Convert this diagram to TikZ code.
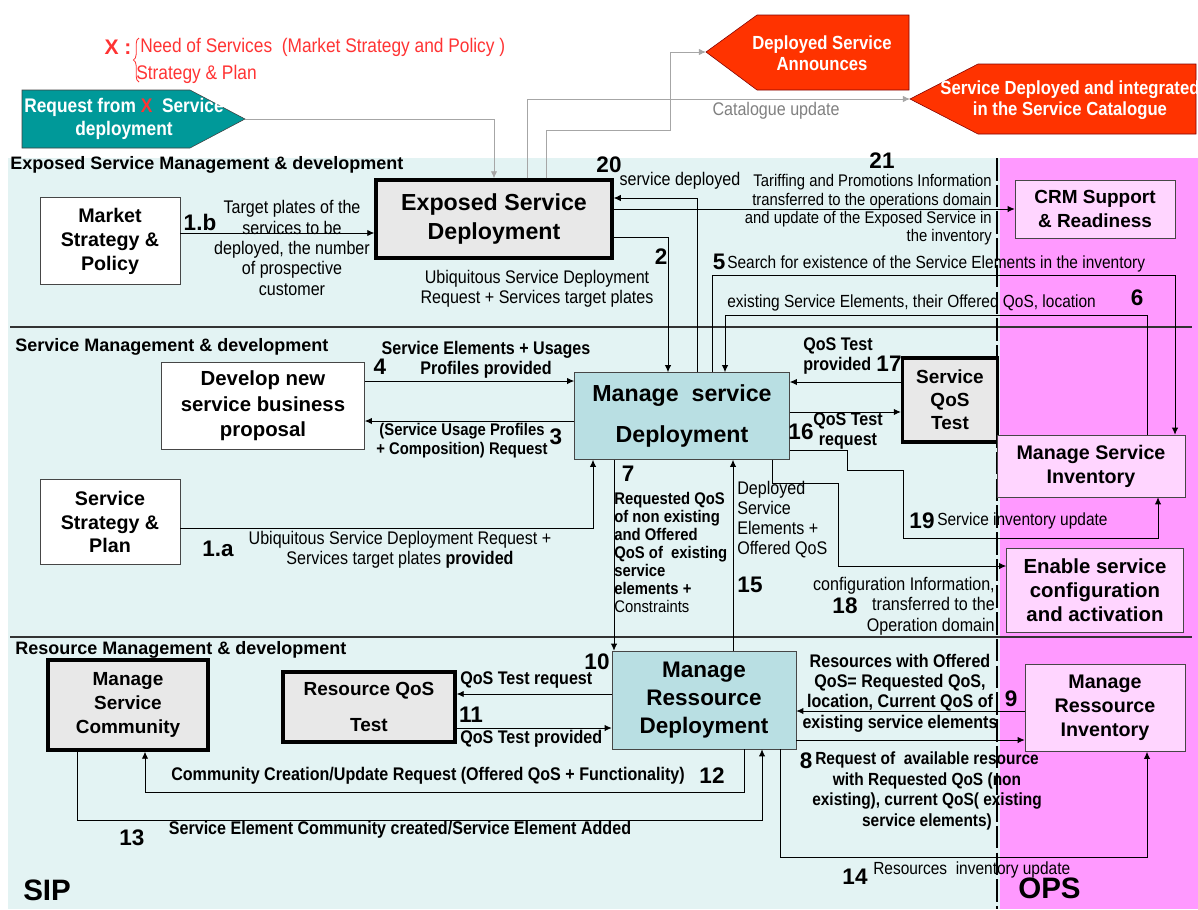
\documentclass[tikz,border=0pt]{standalone}
\usepackage{fontspec}
\setmainfont{Liberation Sans}
\newfontfamily\nf[FakeStretch=0.88]{Liberation Sans}
\usetikzlibrary{arrows.meta,decorations.pathreplacing}
\newcommand\fsz[2]{\fontsize{#1}{#2}\selectfont}
\definecolor{lanecyan}{HTML}{E3F3F3}
\definecolor{opspink}{HTML}{FF99FF}
\definecolor{boxpink}{HTML}{FFD5FF}
\definecolor{boxcyan}{HTML}{B9DFE3}
\definecolor{annred}{HTML}{FF3300}
\definecolor{reqteal}{HTML}{009999}
\definecolor{xred}{HTML}{FF3333}

\begin{document}
\begin{tikzpicture}[x=0.025cm, y=-0.025cm,
  marb/.style={draw=black, line width=2.4pt, fill=gray!18, align=center,
    font=\bfseries\fsz{13.5}{17}, inner sep=1pt},
  wbox/.style={draw=gray!55!black, fill=white, align=center,
    font=\bfseries\fsz{14}{17}, inner sep=1pt},
  cbox/.style={draw=gray!55!black, fill=boxcyan, align=center,
    font=\bfseries\fsz{16}{20}, inner sep=1pt},
  pbox/.style={draw=gray!55!black, fill=boxpink, align=center,
    font=\bfseries\fsz{14}{17}, inner sep=1pt},
  lane/.style={font=\bfseries\fsz{12.8}{14}, inner sep=0pt, anchor=west},
  shtxt/.style={font=\nf\bfseries\fsz{13.5}{15}, text=white, align=center, inner sep=0pt},
  num/.style={font=\bfseries\fsz{16}{16}, inner sep=0pt},
  lbl/.style={font=\nf\fsz{13}{14.5}, align=center, inner sep=0pt},
  blbl/.style={font=\nf\bfseries\fsz{13}{14.5}, align=center, inner sep=0pt},
  flow/.style={-{Latex[length=5pt,width=4.5pt]}, line width=0.6pt},
  gflow/.style={flow, draw=gray!70},
  sepline/.style={draw=gray!40!black, line width=0.9pt},
]
\useasboundingbox (0,0) rectangle (1198,909);

%==================== LANES ====================
\fill[lanecyan] (8,158) rectangle (1000,909);
\fill[opspink] (1000,158) rectangle (1198,909);
\draw[sepline] (10,327) -- (1192,327);
\draw[sepline] (10,637) -- (1192,637);
\draw[black, line width=1.6pt, dash pattern=on 16pt off 3pt] (997,158) -- (997,909);
\node[lane] (L1) at (10,165) {Exposed Service Management \& development};
\node[lane] (L2) at (15,347) {Service Management \& development};
\node[lane] (L3) at (15,650) {Resource Management \& development};
\node[lane, font=\bfseries\fsz{21}{21}] (sip) at (23,890) {SIP};
\node[lane, font=\bfseries\fsz{21}{21}] (ops) at (1018,888) {OPS};

%==================== TOP: legend and outside shapes ====================
\node[font=\bfseries\fsz{15}{15}, text=xred, inner sep=0pt] (xkey) at (118,47) {X :};
\draw[xred, line width=0.6pt, decorate, decoration={brace, amplitude=4pt}] (139,82) -- (139,38);
\node[anchor=west, font=\nf\fsz{14}{15}, text=xred, inner sep=0pt] (xneed) at (140,47)
  {Need of Services\ \ (Market Strategy and Policy )};
\node[anchor=west, font=\nf\fsz{14}{15}, text=xred, inner sep=0pt] (xplan) at (136,74)
  {Strategy \& Plan};

\draw[draw=gray!50!black, fill=reqteal] (22,90) -- (190,90) -- (245,119) -- (190,148) -- (22,148) -- cycle;
\coordinate (reqtip) at (245,119);
\node[shtxt, font=\nf\bfseries\fsz{14}{16}] (req) at (124,119)
  {Request from \textcolor{xred}{X}\ \ Service\\deployment};

\draw[draw=red!50!black, fill=annred] (706,52) -- (757,15) -- (909,15) -- (909,90) -- (757,90) -- cycle;
\coordinate (dsatip) at (706,52);
\node[shtxt] (dsa) at (822,53) {Deployed Service\\Announces};

\draw[draw=red!50!black, fill=annred] (910,99) -- (978,64) -- (1196,64) -- (1196,134) -- (978,134) -- cycle;
\coordinate (sdtip) at (910,99);
\node[shtxt] (sdc) at (1070,100) {Service Deployed and integrated\\in the Service Catalogue};

%==================== BOXES ====================
\node[wbox, minimum width=3.5cm, minimum height=2.175cm] (msp) at (110,241) {Market\\Strategy \&\\Policy};
\node[marb, minimum width=5.9cm, minimum height=1.95cm, font=\bfseries\fsz{16.5}{21}] (esd) at (494,219)
  {Exposed Service\\Deployment};
\node[pbox, minimum width=4cm, minimum height=1.45cm, font=\bfseries\fsz{13.5}{17}] (crm) at (1095,209)
  {CRM Support\\\& Readiness};
\node[wbox, minimum width=5.075cm, minimum height=2.175cm, font=\bfseries\fsz{14.5}{18}] (dnp) at (263,406)
  {Develop new\\service business\\proposal};
\node[cbox, minimum width=5.375cm, minimum height=2.175cm, font=\bfseries\fsz{16.5}{29}] (msd) at (682,416)
  {Manage\ \ service\\Deployment};
\node[marb, minimum width=2.375cm, minimum height=2.1cm, font=\bfseries\fsz{13.5}{16.4}] (sqt) at (950,400)
  {Service\\QoS\\Test};
\node[pbox, minimum width=4.7cm, minimum height=1.55cm] (msi) at (1091,466) {Manage Service\\Inventory};
\node[wbox, minimum width=3.5cm, minimum height=2.125cm] (ssp) at (110,522) {Service\\Strategy \&\\Plan};
\node[pbox, minimum width=4.425cm, minimum height=2.1cm, font=\bfseries\fsz{14.5}{17}] (esc) at (1095,590)
  {Enable service\\configuration\\and activation};
\node[marb, minimum width=4cm, minimum height=2.25cm] (msc) at (128,705) {Manage\\Service\\Community};
\node[marb, minimum width=4.3cm, minimum height=1.75cm, font=\bfseries\fsz{13.5}{26}] (rqt) at (369,707)
  {Resource QoS\\Test};
\node[cbox, minimum width=4.6cm, minimum height=2.45cm] (mrd) at (704,700) {Manage\\Ressource\\Deployment};
\node[pbox, minimum width=4cm, minimum height=2.175cm] (mri) at (1105,708) {Manage\\Ressource\\Inventory};

%==================== CONNECTORS ====================
% request, announce, catalogue (grey)
\draw[gflow] (reqtip) -| (esd.north);
\draw[gflow] (546,0 |- esd.north) -- (546,130) -- (670,130) -- (670,52) -- (dsatip);
\draw[gflow] (527,0 |- esd.north) -- (527,99) -- (sdtip);
\node[lbl, text=gray] (tcat) at (776,111) {Catalogue update};

% 1.b
\draw[flow] (msp.east |- 0,233) -- (esd.west |- 0,233);
\node[num] (n1b) at (200,222) {1.b};
\node[lbl] (t1b) at (292,248) {Target plates of the\\services to be\\deployed, the number\\of prospective\\customer};

% 2
\draw[flow] (esd.east |- 0,237) -| (668,0 |- msd.north);
\node[num] (n2) at (661,257) {2};
\node[lbl] (t2) at (537,289) {Ubiquitous Service Deployment\\Request + Services target plates};

% 20
\draw[flow] (697,0 |- msd.north) |- (esd.east |- 0,198);
\node[num] (n20) at (609,165) {20};
\node[lbl] (t20) at (680,181) {service deployed};

% 21
\draw[flow] (esd.east |- crm.west) -- (crm.west);
\node[num] (n21) at (882,161) {21};
\node[lbl, anchor=east, align=right, font=\nf\fsz{12}{13}] (t21) at (992,210)
  {Tariffing and Promotions Information\\transferred to the operations domain\\and update of the Exposed Service in\\the inventory};

% 5
\draw[flow] (712,0 |- msd.north) |- (1175,275) -- (1175,0 |- msi.north);
\node[num] (n5) at (719,262) {5};
\node[lbl, anchor=west, font=\nf\fsz{12.5}{14}] (t5) at (727,264)
  {Search for existence of the Service Elements in the inventory};

% 6
\draw[flow] (1147,0 |- msi.north) |- (725,315) -- (725,0 |- msd.north);
\node[num] (n6) at (1137,298) {6};
\node[lbl, anchor=west, font=\nf\fsz{12.5}{14}] (t6) at (727,303)
  {existing Service Elements, their Offered QoS, location};

% 4 and 3
\draw[flow] (dnp.east |- 0,381) -- (msd.west |- 0,381);
\node[num] (n4) at (380,367) {4};
\node[blbl] (t4) at (486,360) {Service Elements + Usages\\Profiles provided};
\draw[flow] (msd.west |- 0,421) -- (dnp.east |- 0,421);
\node[num] (n3) at (556,437) {3};
\node[blbl, font=\nf\bfseries\fsz{12}{13.5}] (t3) at (462,441) {(Service Usage Profiles\\+ Composition) Request};

% 1.a
\draw[flow] (ssp.east |- 0,528) -| (593,0 |- msd.south);
\node[num] (n1a) at (218,549) {1.a};
\node[lbl] (t1a) at (400,550) {Ubiquitous Service Deployment Request +\\Services target plates \textbf{provided}};

% 17 and 16
\draw[flow] (sqt.west |- 0,382) -- (msd.east |- 0,382);
\node[blbl, anchor=west, align=left] (t17) at (803,356) {QoS Test\\provided};
\node[num] (n17) at (889,364) {17};
\draw[flow] (msd.east |- 0,412) -- (sqt.west |- 0,412);
\node[num] (n16) at (801,432) {16};
\node[blbl] (t16) at (848,431) {QoS Test\\request};

% 19
\draw[flow] (msd.east |- 0,450) -- (847,450) -- (847,470) -- (903,470) -- (903,538) -- (1158,538) -- (1158,0 |- msi.south);
\node[num] (n19) at (922,521) {19};
\node[lbl, anchor=west, font=\nf\fsz{12.5}{14}] (t19) at (937,521) {Service inventory update};

% 18
\draw[flow] (772,0 |- msd.south) |- (838,483) |- (esc.west |- 0,566);
\node[num] (n18) at (845,606) {18};
\node[lbl, anchor=east, align=right] (t18) at (995,606) {configuration Information,\\transferred to the\\Operation domain};

% 7 and 15
\draw[flow] (614,0 |- msd.south) -- (614,0 |- mrd.north);
\node[num] (n7) at (628,474) {7};
\node[blbl, anchor=west, align=left, font=\nf\bfseries\fsz{12}{12.8}] (t7) at (614,552)
  {Requested QoS\\of non existing\\and Offered\\QoS of\ \ existing\\service\\elements +\\\mdseries Constraints};
\draw[flow] (733,0 |- mrd.north) -- (733,0 |- msd.south);
\node[lbl, anchor=west, align=left, font=\nf\fsz{13}{14.2}] (t15) at (737,520)
  {Deployed\\Service\\Elements +\\Offered QoS};
\node[num] (n15) at (750,585) {15};

% 10 and 11
\draw[flow] (mrd.west |- 0,694) -- (rqt.east |- 0,694);
\node[num] (n10) at (597,662) {10};
\node[blbl, anchor=west] (t10) at (460,680) {QoS Test request};
\draw[flow] (rqt.east |- 0,728) -- (mrd.west |- 0,728);
\node[num] (n11) at (471,715) {11};
\node[blbl, anchor=west] (t11) at (460,739) {QoS Test provided};

% 12 and 13
\draw[flow] (744,0 |- mrd.south) |- (145,792) -- (145,0 |- msc.south);
\node[blbl] (t12) at (428,776) {Community Creation/Update Request (Offered QoS + Functionality)};
\node[num] (n12) at (712,776) {12};
\draw[flow] (77,0 |- msc.south) |- (762,820) -- (762,0 |- mrd.south);
\node[num] (n13) at (132,838) {13};
\node[blbl] (t13) at (400,830) {Service Element Community created/Service Element Added};

% 9 and 8
\draw[flow] (mri.west |- 0,711) -- (mrd.east |- 0,711);
\node[blbl] (t9) at (900,693) {Resources with Offered\\QoS= Requested QoS,\\location, Current QoS of\\existing service elements};
\node[num] (n9) at (1011,699) {9};
\draw[flow] (mrd.east |- 0,740) -- (mri.west |- 0,740);
\node[num] (n8) at (806,761) {8};
\node[blbl, font=\nf\bfseries\fsz{12.5}{14.5}] (t8) at (927,791) {Request of\ \ available resource\\with Requested QoS (non\\existing), current QoS( existing\\service elements)};

% 14
\draw[flow] (780,0 |- mrd.south) |- (1147,857) -- (1147,0 |- mri.south);
\node[num] (n14) at (855,877) {14};
\node[lbl, anchor=west, font=\nf\fsz{12.5}{14}] (t14) at (873,870) {Resources\ \ inventory update};

\end{tikzpicture}
\end{document}
